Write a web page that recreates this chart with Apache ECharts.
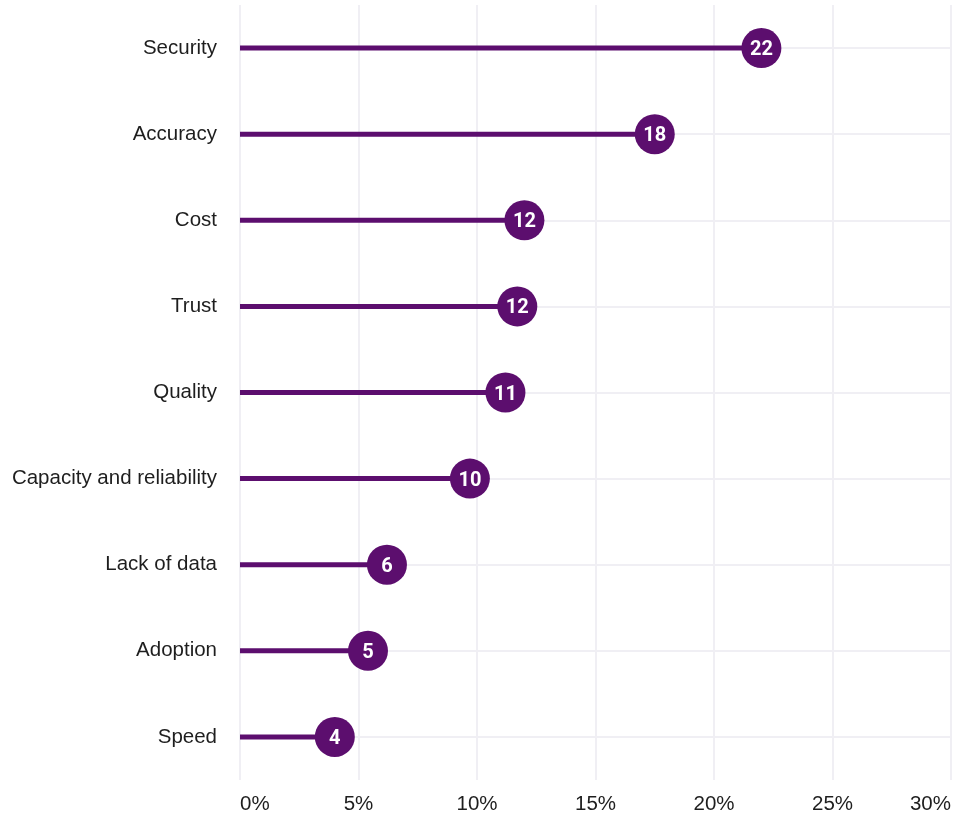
<!DOCTYPE html>
<html>
<head>
<meta charset="utf-8">
<script src="https://cdn.jsdelivr.net/npm/echarts@6/dist/echarts.min.js"></script>
<style>
html,body{margin:0;padding:0;background:#fff;}
#chart{width:967px;height:815px;}
</style>
</head>
<body>
<div id="chart"></div>
<script>
const categories = ["Security","Accuracy","Cost","Trust","Quality","Capacity and reliability","Lack of data","Adoption","Speed"];
const values = [22.0, 17.5, 12.0, 11.7, 11.2, 9.7, 6.2, 5.4, 4.0];
const xTicks = { min: 0, max: 30, interval: 5 };

const color = '#5c0e6e';
const gridColor = '#f0eff4';
const chart = echarts.init(document.getElementById('chart'));
chart.setOption({
  animation: false,
  backgroundColor: '#ffffff',
  grid: { left: 240, right: 16, top: 5, bottom: 35, containLabel: false },
  xAxis: {
    type: 'value',
    min: xTicks.min, max: xTicks.max, interval: xTicks.interval,
    axisLine: { show: false },
    axisTick: { show: false },
    splitLine: { show: true, lineStyle: { color: gridColor, width: 2 } },
    axisLabel: {
      formatter: '{value}%',
      fontFamily: 'Liberation Sans',
      fontSize: 20.5,
      color: '#1e1e1e',
      margin: 14,
      alignMinLabel: 'left',
      alignMaxLabel: 'right'
    }
  },
  yAxis: {
    type: 'category',
    data: categories,
    inverse: true,
    axisLine: { show: false },
    axisTick: { show: false },
    splitLine: { show: true, interval: 0, alignWithLabel: true, lineStyle: { color: gridColor, width: 2 } },
    axisLabel: {
      fontFamily: 'Liberation Sans',
      fontSize: 20.5,
      color: '#1e1e1e',
      margin: 23,
      interval: 0,
      padding: [7, 0, 0, 0]
    }
  },
  series: [
    {
      type: 'bar',
      data: values,
      barWidth: 5,
      itemStyle: { color: color },
      z: 2
    },
    {
      type: 'scatter',
      data: values,
      symbol: 'circle',
      symbolSize: 40,
      itemStyle: { color: color, opacity: 1 },
      label: {
        show: true,
        position: 'inside',
        formatter: p => String(Math.round(p.value)),
        color: '#fff',
        fontFamily: 'Roboto',
        fontWeight: 'bold',
        fontSize: 20,
        offset: [0, 2]
      },
      z: 3
    }
  ]
});
</script>
</body>
</html>
